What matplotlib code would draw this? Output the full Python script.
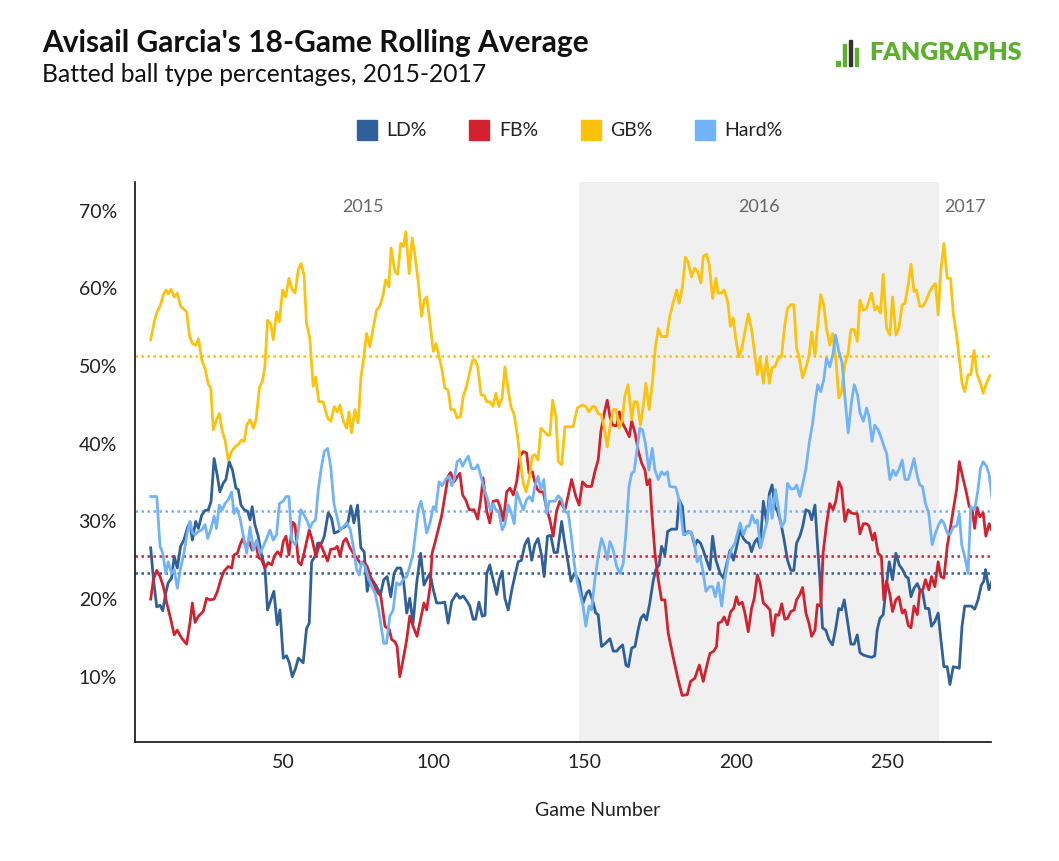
import matplotlib
matplotlib.use("Agg")
import matplotlib.pyplot as plt
from matplotlib.lines import Line2D
from matplotlib.patches import Rectangle

plt.rcParams['font.family'] = ['Lato', 'DejaVu Sans']

# ---------------- data ----------------
gb_games = [6.2, 7.4, 8.2, 9.3, 10.4, 11.3, 12.0, 12.9, 14.0, 15.0, 16.1, 18.1, 19.0, 20.0, 21.2, 22.0, 23.1, 24.2, 25.3, 26.1, 26.9, 28.0, 28.9, 29.9, 30.8, 31.9, 33.0, 34.1, 35.2, 36.3, 37.2, 38.0, 39.1, 40.2, 41.1, 42.2, 43.3, 44.0, 44.9, 46.0, 46.8, 47.9, 48.8, 49.9,
            50.9, 52.0, 53.1, 54.0, 55.1, 56.0, 57.0, 57.8, 58.9, 60.0, 60.8, 61.9, 63.3, 64.8, 65.9, 67.0, 68.0, 68.9, 70.0, 71.1, 71.9, 72.7, 73.8, 74.9, 75.8, 76.6, 77.7, 78.8, 79.9, 81.0, 82.1, 83.2, 84.0, 85.1, 85.8, 87.1, 88.0, 89.0, 89.9, 90.7, 91.8, 92.8, 93.7, 94.8, 95.9, 96.8, 97.6,
            98.5, 99.8, 100.7, 101.7, 102.5, 103.6, 104.7, 105.6, 106.7, 107.7, 108.8, 109.7, 110.8, 111.9, 112.8, 113.6, 114.5, 115.6, 116.7, 117.5, 118.5, 119.6, 120.5, 121.5, 122.6, 123.5, 124.6, 125.5, 126.6, 127.7, 128.8, 129.6, 130.5, 131.6, 132.6, 133.4, 134.5, 135.4, 136.5, 137.6, 138.4, 139.3, 140.4, 141.2, 142.3, 143.4, 146.1,
            147.5, 149.2, 150.3, 151.4, 152.5, 153.3, 154.4, 155.5, 156.4, 157.4, 158.5, 159.4, 160.3, 161.4, 162.4, 163.2, 164.3, 165.5, 166.3, 167.3, 168.4, 169.3, 170.2, 171.3, 172.4, 173.3, 174.3, 175.4, 177.1, 178.1, 179.2, 180.4, 181.2, 182.3, 183.3, 184.2, 185.3, 186.4, 187.3, 188.4, 189.2, 190.3, 191.2, 192.3, 193.4,
            194.1, 195.3, 196.1, 197.3, 198.2, 199.1, 200.0, 201.0, 201.9, 203.0, 204.1, 205.2, 206.1, 207.1, 208.0, 209.1, 210.2, 211.1, 212.0, 212.9, 214.0, 215.1, 216.2, 217.1, 218.2, 219.2, 220.1, 220.9, 222.1, 223.1, 224.2, 225.1, 226.2, 227.0, 228.1, 229.1, 230.0, 231.1, 232.0, 233.1, 234.1, 235.0, 236.1, 237.2, 238.1, 239.2, 240.2, 241.1, 242.2,
            243.3, 244.9, 246.0, 246.8, 247.9, 248.8, 249.9, 251.0, 251.9, 253.0, 254.0, 255.1, 256.0, 257.1, 258.0, 259.0, 259.8, 260.9, 262.0, 263.1, 264.2, 265.1, 266.1, 267.0, 267.9, 268.9, 270.0, 271.1, 272.0, 273.1, 274.0, 274.9, 275.8, 276.9, 277.8, 278.9, 279.9, 281.0, 281.9, 283.0, 284.1, 284.9]
gb_vals = [53.4, 55.7, 56.9, 57.7, 59.2, 59.8, 59.3, 59.9, 58.9, 59.4, 57.7, 57.0, 54.0, 52.9, 52.7, 53.5, 50.8, 49.7, 47.6, 47.2, 41.8, 43.1, 43.9, 41.6, 40.5, 37.9, 39.0, 39.6, 39.9, 40.5, 40.3, 42.4, 43.1, 42.0, 43.1, 47.2, 48.2, 49.9, 55.9, 55.4, 53.4, 57.0, 55.7, 59.8,
           58.9, 61.3, 59.8, 59.4, 62.4, 63.2, 61.7, 55.5, 53.6, 47.4, 48.6, 45.4, 45.4, 43.3, 42.9, 44.8, 44.1, 45.0, 42.9, 42.0, 44.1, 41.4, 44.4, 42.7, 48.4, 50.6, 54.2, 52.5, 54.9, 57.2, 57.7, 59.2, 61.1, 60.2, 65.2, 62.2, 61.8, 65.8, 65.4, 67.3, 61.9, 66.5, 64.3, 60.9, 56.4, 58.5, 58.9,
           56.2, 51.9, 52.9, 51.2, 49.9, 47.2, 46.9, 44.4, 44.4, 43.3, 43.5, 46.1, 47.4, 49.3, 50.8, 50.8, 49.9, 46.3, 46.2, 45.4, 45.4, 44.8, 46.5, 44.8, 45.9, 49.9, 46.9, 44.8, 43.7, 40.9, 37.3, 34.9, 33.8, 35.6, 38.4, 38.6, 37.9, 42.0, 41.6, 41.1, 41.1, 45.6, 43.5, 37.7, 37.3, 42.2, 42.2,
           44.6, 45.0, 44.8, 44.1, 44.8, 44.8, 43.9, 43.7, 42.0, 39.6, 42.6, 44.4, 44.4, 42.0, 43.1, 46.1, 47.6, 43.1, 45.4, 45.4, 42.4, 44.8, 47.8, 44.4, 48.0, 52.3, 54.8, 53.8, 53.8, 56.4, 58.1, 59.8, 58.1, 60.2, 64.0, 63.4, 61.5, 62.6, 62.2, 60.7, 64.1, 64.4, 63.0, 58.7, 61.3,
           59.4, 59.4, 59.8, 58.3, 55.1, 56.2, 53.4, 51.2, 52.1, 54.4, 56.7, 54.7, 52.1, 48.9, 51.0, 47.8, 51.0, 47.8, 49.8, 49.9, 51.0, 51.2, 55.3, 57.4, 57.9, 57.9, 52.3, 51.2, 48.5, 49.7, 51.2, 54.4, 51.4, 54.9, 59.2, 57.9, 54.9, 52.7, 54.2, 51.0, 45.9, 46.7, 50.2, 51.7, 54.7, 54.7, 53.2, 58.5, 57.2,
           57.4, 59.4, 57.2, 57.7, 56.8, 61.8, 54.9, 54.0, 58.9, 54.0, 54.9, 57.9, 58.1, 60.5, 63.1, 59.6, 59.8, 57.7, 57.7, 58.5, 59.6, 60.2, 60.6, 56.6, 62.4, 65.8, 61.3, 61.3, 56.8, 54.0, 51.0, 47.8, 46.7, 48.9, 48.9, 52.0, 48.9, 47.8, 46.5, 47.8, 48.8, 48.8]

ld_games = [6.2, 7.1, 8.2, 9.3, 10.2, 11.2, 12.0, 13.1, 14.0, 15.0, 16.1, 17.2, 18.3, 19.2, 20.0, 21.1, 22.0, 23.1, 24.2, 25.3, 26.2, 27.2, 28.3, 29.1, 30.2, 31.1, 32.2, 33.3, 34.4, 35.2, 36.1, 37.2, 38.3, 39.1, 39.8, 40.7, 41.8, 42.9, 44.0, 44.9, 46.0, 47.0, 48.1, 49.0, 50.1,
            51.2, 52.1, 53.1, 54.2, 55.1, 56.7, 57.8, 58.7, 59.5, 60.6, 61.5, 62.8, 63.7, 65.0, 66.1, 67.0, 68.3, 69.4, 70.5, 71.6, 72.5, 73.5, 74.7, 75.8, 76.9, 77.9, 78.8, 79.9, 81.0, 82.3, 83.4, 84.5, 85.7, 86.8, 87.8, 89.0, 89.8, 91.0, 92.0, 93.1, 94.3, 95.6, 96.7, 97.8, 98.7,
            99.8, 100.9, 102.2, 103.6, 104.7, 105.9, 107.5, 108.6, 109.7, 111.0, 111.9, 113.0, 113.8, 114.9, 116.0, 116.9, 117.5, 118.5, 119.6, 120.8, 121.6, 122.6, 123.5, 124.6, 125.9, 127.0, 127.9, 129.0, 130.1, 131.2, 132.4, 133.4, 134.5, 135.7, 136.5, 137.6, 138.7, 139.8, 140.9, 142.3, 143.1, 144.3, 145.4, 146.5,
            147.0, 148.1, 149.4, 150.6, 151.4, 152.5, 153.6, 154.4, 155.5, 156.8, 158.3, 159.4, 160.5, 161.4, 162.5, 163.6, 164.4, 165.5, 166.6, 167.6, 168.5, 169.5, 170.4, 171.5, 172.6, 173.5, 174.6, 175.4, 176.5, 177.4, 178.7, 180.4, 181.2, 182.3, 183.1, 184.2, 185.3, 186.4, 187.2, 188.3, 189.2, 190.3, 191.4, 192.3, 193.4,
            194.8, 195.9, 197.0, 198.1, 199.2, 200.3, 201.4, 202.5, 203.6, 204.4, 205.2, 206.1, 207.1, 208.0, 209.1, 210.2, 211.1, 212.0, 212.9, 213.8, 214.9, 215.9, 217.1, 218.2, 219.2, 220.1, 221.2, 222.1, 223.2, 224.3, 225.1, 226.2, 227.0, 227.8, 228.7, 229.8, 230.8, 232.0, 233.1, 234.1, 235.0, 235.9, 237.0, 238.1, 239.2, 240.2, 241.1,
            242.2, 243.9, 245.0, 246.0, 246.8, 247.7, 248.8, 249.7, 250.8, 251.9, 253.0, 254.1, 255.2, 256.3, 257.1, 258.0, 259.0, 260.1, 260.9, 261.8, 262.8, 263.9, 264.8, 265.9, 267.0, 267.9, 268.9, 270.0, 270.9, 272.0, 274.0, 274.9, 275.8, 278.0, 279.1, 280.2, 281.3, 282.1, 282.7, 283.8, 284.8]
ld_vals = [26.6, 22.6, 19.0, 19.2, 18.5, 20.8, 22.1, 22.7, 25.5, 24.0, 26.8, 27.6, 29.1, 29.9, 27.6, 30.0, 29.1, 30.8, 31.4, 31.5, 32.6, 38.1, 35.8, 33.8, 34.9, 35.4, 37.7, 36.6, 34.3, 34.1, 32.1, 31.5, 31.3, 30.2, 31.9, 29.6, 28.1, 25.7, 24.2, 18.6, 19.9, 21.0, 16.7, 18.6, 12.4,
           12.7, 11.8, 10.0, 11.1, 12.4, 11.8, 16.2, 16.9, 24.8, 25.5, 27.2, 27.2, 28.1, 31.1, 30.4, 28.5, 28.7, 29.1, 29.3, 30.0, 32.0, 29.8, 32.1, 26.6, 26.1, 21.0, 22.7, 22.3, 21.6, 20.6, 22.5, 22.9, 20.3, 23.3, 24.0, 24.0, 22.9, 18.2, 20.1, 16.9, 22.1, 25.9, 21.8, 22.7, 23.3,
           21.2, 19.5, 19.5, 19.6, 16.9, 19.7, 20.7, 20.1, 20.4, 19.7, 19.1, 17.4, 17.4, 19.6, 17.8, 17.9, 23.3, 24.4, 22.5, 20.6, 22.5, 23.6, 20.1, 18.6, 21.4, 23.3, 24.8, 25.0, 27.0, 27.8, 25.0, 27.0, 27.8, 25.5, 22.9, 28.1, 28.2, 26.0, 26.0, 30.0, 27.8, 25.0, 22.3, 23.3,
           23.1, 22.3, 19.5, 20.8, 21.1, 19.9, 18.2, 18.0, 13.9, 14.3, 14.9, 13.3, 13.3, 13.7, 14.1, 11.5, 11.3, 13.7, 13.9, 16.0, 17.5, 18.0, 17.3, 19.5, 22.3, 23.8, 24.4, 26.8, 25.7, 28.7, 29.0, 29.0, 32.8, 31.9, 28.3, 28.7, 28.5, 26.8, 27.6, 27.2, 26.3, 25.0, 23.8, 28.1, 25.0,
           23.3, 22.7, 24.6, 26.3, 25.0, 26.8, 28.9, 27.8, 27.3, 27.2, 26.1, 27.2, 27.8, 26.6, 32.6, 29.8, 33.6, 34.7, 31.9, 31.3, 29.8, 27.8, 25.0, 23.7, 23.7, 27.2, 28.1, 29.3, 31.5, 31.3, 30.2, 32.1, 27.2, 22.7, 16.3, 16.0, 14.8, 14.1, 16.3, 18.8, 18.6, 19.9, 17.1, 14.2, 14.2, 15.4, 13.1,
           12.8, 12.6, 12.5, 12.7, 16.0, 17.5, 18.0, 21.2, 24.8, 22.5, 25.9, 24.4, 23.8, 22.9, 22.7, 20.3, 21.4, 22.0, 21.2, 21.0, 18.8, 18.8, 16.5, 17.1, 18.2, 14.8, 11.3, 11.3, 9.0, 11.3, 11.1, 16.5, 19.1, 19.1, 18.7, 19.9, 21.8, 22.3, 23.8, 21.2, 22.3]

fb_games = [6.2, 7.1, 8.2, 9.3, 10.4, 11.5, 12.6, 14.0, 15.0, 16.4, 18.1, 19.2, 20.0, 20.9, 22.0, 23.6, 24.7, 25.8, 27.2, 28.3, 29.4, 30.5, 31.9, 33.0, 33.8, 34.9, 35.8, 36.7, 37.7, 38.8, 39.8, 40.9, 42.0, 42.9, 44.0, 45.1, 46.3, 47.1, 48.2, 49.3, 50.1,
            51.0, 52.0, 53.2, 54.0, 55.1, 56.0, 57.1, 58.7, 59.7, 60.9, 62.3, 63.3, 64.8, 65.8, 67.2, 68.0, 68.9, 70.0, 70.9, 72.2, 73.3, 74.4, 75.7, 76.8, 77.9, 79.0, 79.9, 81.2, 82.4, 83.8, 85.2, 86.0, 87.1, 87.8, 88.7, 89.8, 91.0, 92.0, 93.1, 94.4, 95.4, 96.7, 97.6, 98.7,
            99.4, 100.3, 101.4, 102.5, 103.6, 104.7, 105.5, 106.7, 107.8, 108.6, 109.5, 110.5, 111.7, 113.3, 114.5, 115.5, 116.3, 117.5, 118.5, 119.6, 121.1, 121.9, 123.0, 124.1, 125.2, 126.3, 127.4, 128.5, 129.6, 130.7, 131.5, 132.6, 133.4, 134.3, 135.1, 136.2, 137.3, 138.4, 139.5, 140.6, 141.7, 142.5, 143.4, 144.5, 145.6, 146.5,
            147.0, 148.1, 149.2, 150.6, 152.2, 153.3, 154.4, 155.3, 156.4, 157.4, 158.3, 159.2, 160.5, 161.4, 162.5, 163.6, 164.7, 165.5, 166.6, 167.6, 168.8, 169.9, 170.6, 171.5, 172.1, 173.2, 174.3, 175.4, 176.5, 177.6, 179.2, 180.9, 182.2, 183.9, 185.0, 186.4, 187.9, 189.2, 190.3, 191.4, 192.7, 193.6,
            194.2, 195.3, 196.1, 197.2, 198.3, 199.3, 200.2, 201.0, 202.1, 203.0, 204.1, 205.2, 206.1, 207.1, 208.0, 209.1, 210.2, 211.3, 212.2, 213.2, 214.2, 215.2, 216.2, 217.1, 218.2, 219.3, 220.1, 221.2, 222.1, 223.2, 224.2, 225.1, 226.2, 227.0, 228.1, 228.9, 230.0, 231.1, 232.2, 233.1, 234.1, 235.0, 236.1, 237.2, 238.1, 239.2, 240.2, 241.1, 242.2,
            243.3, 244.1, 245.3, 246.0, 247.1, 248.2, 249.0, 249.9, 251.0, 251.9, 253.0, 254.0, 255.1, 256.0, 257.1, 258.0, 259.0, 260.1, 260.9, 262.0, 262.8, 263.9, 264.8, 265.9, 267.0, 267.9, 268.9, 270.0, 271.1, 272.0, 273.1, 274.0, 275.2, 276.3, 277.3, 278.2, 279.1, 279.9, 280.8, 281.9, 282.8, 283.9, 284.9]
fb_vals = [20.0, 22.5, 23.7, 22.9, 21.6, 19.5, 17.8, 15.4, 16.0, 15.0, 14.2, 16.9, 19.5, 17.0, 17.8, 18.4, 20.1, 19.9, 20.0, 21.0, 22.5, 23.6, 24.2, 24.0, 25.7, 25.9, 27.0, 27.8, 26.8, 27.4, 26.3, 27.2, 25.3, 25.1, 24.0, 24.7, 24.4, 25.5, 26.1, 25.6, 27.4,
           28.1, 25.7, 29.9, 29.6, 24.8, 24.4, 26.1, 28.9, 27.6, 25.5, 27.2, 26.3, 24.9, 26.4, 26.5, 26.8, 25.5, 27.4, 27.8, 26.6, 25.9, 25.3, 24.6, 24.8, 24.2, 22.9, 22.1, 20.9, 20.4, 16.5, 16.1, 14.8, 14.5, 13.9, 10.0, 12.2, 14.8, 17.8, 16.5, 15.2, 17.1, 19.5, 18.6, 21.5,
           25.9, 27.2, 28.9, 30.6, 33.2, 35.8, 36.3, 35.1, 35.8, 36.2, 33.4, 32.8, 31.5, 31.5, 30.3, 32.8, 35.6, 31.3, 29.8, 32.6, 32.7, 31.9, 30.1, 33.8, 34.3, 33.4, 35.1, 38.4, 39.0, 38.8, 36.2, 36.4, 35.1, 34.1, 33.8, 33.8, 31.7, 30.2, 28.1, 31.3, 32.6, 32.1, 31.5, 33.4, 35.4, 34.0,
           33.2, 32.1, 35.1, 34.5, 34.5, 36.4, 37.9, 41.6, 43.9, 45.6, 43.5, 42.4, 42.3, 44.1, 42.6, 41.8, 40.9, 42.9, 41.4, 39.2, 37.5, 36.6, 34.7, 35.4, 31.5, 25.9, 22.5, 19.9, 19.9, 15.6, 12.6, 9.6, 7.6, 7.7, 9.4, 9.8, 11.5, 9.4, 11.3, 13.0, 13.3, 13.9,
           16.9, 17.1, 17.7, 16.7, 18.4, 18.8, 20.3, 19.3, 19.6, 18.2, 15.8, 18.8, 20.1, 23.1, 22.1, 19.5, 19.1, 18.6, 15.3, 18.0, 17.9, 19.4, 17.4, 17.5, 18.4, 18.6, 19.9, 20.6, 21.5, 18.2, 16.9, 15.2, 16.0, 19.3, 19.1, 25.9, 29.6, 32.3, 31.5, 32.6, 35.1, 34.3, 30.0, 31.5, 31.1, 31.0, 31.0, 28.4, 29.7,
           29.7, 29.4, 27.6, 28.5, 25.9, 25.5, 19.9, 22.3, 20.6, 18.4, 19.9, 20.3, 18.2, 18.6, 16.6, 16.3, 19.1, 18.0, 21.0, 21.3, 22.5, 21.2, 22.9, 21.6, 24.8, 22.9, 22.7, 26.8, 29.3, 31.5, 34.1, 37.7, 35.6, 33.8, 31.9, 31.7, 29.1, 31.8, 30.6, 31.1, 28.1, 29.7, 28.7]

hard_games = [6.2, 8.2, 9.3, 10.2, 11.2, 12.0, 13.1, 14.0, 15.0, 16.1, 17.2, 18.3, 19.2, 20.1, 20.9, 22.0, 23.1, 24.2, 25.1, 26.2, 27.2, 28.0, 28.9, 29.9, 30.8, 31.9, 33.0, 33.8, 34.7, 35.8, 36.9, 38.0, 39.1, 40.2, 41.3, 42.4, 43.5, 44.6, 45.7, 46.8, 47.9, 48.8, 50.1,
              51.0, 52.0, 52.9, 54.0, 54.7, 55.9, 57.0, 58.1, 58.9, 59.7, 60.8, 61.7, 62.8, 63.7, 64.8, 65.8, 66.9, 68.0, 68.9, 70.0, 71.1, 72.2, 73.3, 74.4, 75.3, 76.0, 77.2, 78.3, 79.4, 80.5, 81.8, 82.7, 83.4, 84.3, 85.4, 86.5, 87.6, 88.7, 89.8, 91.0, 92.0, 93.1, 94.0, 94.8, 95.7, 96.7, 97.6, 98.7,
              99.8, 100.6, 101.7, 102.7, 103.9, 105.0, 105.9, 106.7, 107.7, 108.6, 109.5, 110.5, 111.4, 112.5, 113.6, 114.5, 115.6, 116.7, 117.8, 118.8, 119.6, 120.5, 121.5, 122.6, 123.5, 124.6, 125.5, 126.6, 127.4, 128.5, 129.6, 130.7, 131.6, 132.6, 133.4, 134.5, 135.4, 136.4, 137.3, 138.2, 140.1, 141.2, 142.3, 143.4, 144.5, 145.4, 146.5,
              147.3, 148.3, 149.4, 150.3, 151.4, 152.2, 153.3, 154.4, 155.5, 156.4, 157.4, 158.3, 159.4, 160.5, 161.6, 162.7, 163.6, 164.6, 165.5, 166.3, 167.1, 168.2, 169.1, 170.1, 171.2, 172.3, 173.2, 174.3, 175.4, 176.3, 177.3, 178.1, 180.1, 181.5, 182.6, 183.9, 185.0, 186.1, 187.2, 188.1, 189.0, 190.1, 191.2, 192.3, 193.2,
              194.2, 195.3, 196.4, 197.4, 198.6, 199.7, 200.8, 201.4, 202.5, 203.6, 204.4, 205.4, 206.3, 207.1, 208.2, 209.1, 210.2, 211.3, 212.0, 213.1, 214.2, 215.1, 216.2, 217.1, 218.2, 219.3, 220.1, 221.2, 222.3, 223.2, 224.3, 225.4, 226.2, 227.1, 228.1, 229.1, 230.0, 231.1, 232.2, 233.0, 234.1, 235.2, 236.1, 237.2, 238.3, 239.2, 240.3, 241.1,
              242.2, 243.3, 244.1, 245.1, 246.0, 247.1, 248.2, 249.1, 249.9, 251.0, 252.1, 253.0, 254.1, 255.1, 256.0, 257.1, 258.0, 259.0, 260.1, 260.9, 261.8, 262.8, 263.9, 265.0, 266.1, 267.2, 268.1, 268.9, 270.0, 270.9, 272.0, 273.1, 274.0, 274.8, 275.8, 276.9, 277.8, 279.1, 280.2, 281.0, 281.9, 283.0, 283.9, 284.9]
hard_vals = [33.2, 33.2, 26.8, 25.9, 23.3, 24.8, 23.3, 23.8, 21.4, 24.0, 25.9, 28.5, 30.0, 28.5, 28.3, 28.7, 28.9, 29.6, 27.8, 29.1, 30.7, 29.1, 32.1, 31.5, 32.3, 32.8, 33.8, 31.0, 31.7, 30.4, 28.1, 25.9, 29.3, 26.3, 27.6, 25.9, 26.8, 27.8, 28.9, 27.6, 28.3, 32.3, 32.6,
             33.2, 33.2, 27.6, 27.0, 27.6, 31.5, 30.8, 30.0, 29.1, 29.8, 30.2, 34.1, 37.1, 39.0, 39.4, 37.1, 32.3, 30.4, 28.9, 29.3, 29.8, 29.1, 26.8, 23.8, 23.1, 24.8, 24.2, 22.7, 21.6, 20.8, 18.4, 16.0, 14.3, 14.3, 17.8, 18.6, 22.1, 21.8, 22.5, 22.9, 24.2, 25.9, 28.9, 31.5, 32.6, 30.8, 28.5, 29.8,
             31.9, 31.5, 35.1, 34.6, 35.4, 35.8, 34.6, 35.4, 37.7, 38.0, 37.1, 37.9, 38.4, 36.8, 36.8, 37.3, 35.8, 34.1, 32.8, 31.3, 32.3, 31.5, 31.3, 28.9, 29.6, 32.1, 31.3, 29.7, 33.8, 32.6, 31.5, 32.8, 33.2, 32.6, 34.5, 35.8, 34.1, 35.4, 31.0, 32.6, 32.6, 33.3, 32.8, 31.3, 31.0, 28.5, 24.5,
             22.5, 20.8, 19.1, 16.5, 19.1, 18.6, 22.5, 25.5, 27.8, 26.8, 25.1, 27.4, 26.3, 24.2, 23.3, 24.6, 28.5, 34.5, 36.2, 36.4, 38.8, 42.0, 41.8, 39.9, 36.6, 39.4, 36.6, 35.4, 36.4, 36.0, 36.4, 34.5, 34.4, 32.3, 28.3, 28.5, 28.7, 27.6, 24.8, 25.5, 23.8, 21.0, 21.6, 21.6, 20.3,
             22.1, 19.1, 22.7, 25.0, 26.5, 27.2, 28.9, 29.8, 28.3, 29.4, 29.4, 30.8, 29.8, 30.2, 26.6, 28.1, 29.8, 33.2, 30.4, 34.1, 31.5, 29.3, 30.0, 34.9, 34.2, 34.2, 34.7, 33.2, 35.1, 36.8, 40.1, 42.6, 45.2, 47.6, 46.7, 48.2, 51.0, 49.9, 51.6, 54.0, 51.9, 50.4, 46.1, 41.4, 45.4, 47.6, 46.3, 44.0,
             42.9, 44.6, 43.5, 40.3, 42.4, 41.8, 40.7, 39.6, 38.8, 35.4, 36.6, 35.9, 36.8, 37.9, 35.4, 35.4, 36.6, 38.1, 35.8, 34.7, 34.5, 32.3, 31.0, 27.0, 28.5, 29.6, 30.2, 29.8, 28.5, 28.3, 29.3, 29.4, 31.0, 27.0, 25.5, 23.3, 31.9, 31.5, 34.1, 36.8, 37.7, 37.1, 36.0, 32.8]

series_names = ['LD%', 'FB%', 'GB%', 'Hard%']
series_avgs = [23.3, 25.5, 51.3, 31.3]
season_labels = ['2015', '2016', '2017']
season_label_games = [76.5, 207.6, 276.0]
season_2016_start = 148.0
season_2016_end = 267.2
x_ticks = [50, 100, 150, 200, 250]
y_ticks = [10, 20, 30, 40, 50, 60, 70]

colors = ['#2f609a', '#d1232f', '#fdc20c', '#72b3f7']

# ---------------- figure ----------------
W, H = 1059, 861
fig = plt.figure(figsize=(W / 100, H / 100), dpi=100)
ax = fig.add_axes([135 / W, 1 - 742 / H, (991 - 135) / W, (742 - 182) / H])

ax.set_xlim(1.0, 284.5)
ax.set_ylim(1.6, 73.7)

ax.axvspan(season_2016_start, season_2016_end, color='#f0f0f0', zorder=0, lw=0)

all_games = [ld_games, fb_games, gb_games, hard_games]
all_vals = [ld_vals, fb_vals, gb_vals, hard_vals]
for g, v, c in zip(all_games, all_vals, colors):
    ax.plot(g, v, color=c, lw=2.0, solid_joinstyle='round', zorder=3)
for a, c in zip(series_avgs, colors):
    ax.axhline(a, color=c, lw=1.8, ls=(0, (1, 1.4)), zorder=2)

for lab, gx in zip(season_labels, season_label_games):
    ax.text(gx, 70.5, lab, ha='center', va='center', fontsize=13, color='#666666')

for s in ['top', 'right']:
    ax.spines[s].set_visible(False)
for s in ['left', 'bottom']:
    ax.spines[s].set_color('#111111')
    ax.spines[s].set_linewidth(1.2)

ax.set_xticks(x_ticks)
ax.set_xticklabels([str(t) for t in x_ticks])
ax.set_yticks(y_ticks)
ax.set_yticklabels([f'{t}%' for t in y_ticks])
ax.tick_params(axis='both', length=0, labelsize=14, labelcolor='#222222')
ax.tick_params(axis='y', pad=13)
ax.tick_params(axis='x', pad=9)

fig.text(598 / W, 1 - 810 / H, 'Game Number', fontsize=14, color='#222222',
         ha='center', va='center')

# titles
fig.text(42 / W, 1 - 43 / H, "Avisail Garcia's 18-Game Rolling Average", fontsize=21.5,
         fontweight='bold', color='#111111', ha='left', va='center')
fig.text(42 / W, 1 - 75 / H, "Batted ball type percentages, 2015-2017", fontsize=17.7,
         color='#111111', ha='left', va='center')

# FanGraphs mark
green = '#5cb02d'
fig.text(1022 / W, 1 - 53 / H, "FANGRAPHS", fontsize=18, fontweight='heavy',
         color=green, ha='right', va='center')
fig.patches.append(Rectangle((836 / W, 1 - 66 / H), 4 / W, 5 / H, transform=fig.transFigure, color=green))
fig.patches.append(Rectangle((843 / W, 1 - 66 / H), 3 / W, 22 / H, transform=fig.transFigure, color=green))
fig.patches.append(Rectangle((849 / W, 1 - 66 / H), 3 / W, 26 / H, transform=fig.transFigure, color='#333333'))
fig.patches.append(Rectangle((855 / W, 1 - 66 / H), 3 / W, 18 / H, transform=fig.transFigure, color=green))

# legend
handles = [Line2D([], [], marker='s', ls='none', markersize=14, color=c) for c in colors]
fig.legend(handles, series_names, loc='center', bbox_to_anchor=(570 / W, 1 - 131 / H), ncol=4,
           frameon=False, fontsize=14, handletextpad=0.5, columnspacing=2.2, handlelength=1.0,
           labelcolor='#222222')

fig.savefig('out.png', dpi=100)
